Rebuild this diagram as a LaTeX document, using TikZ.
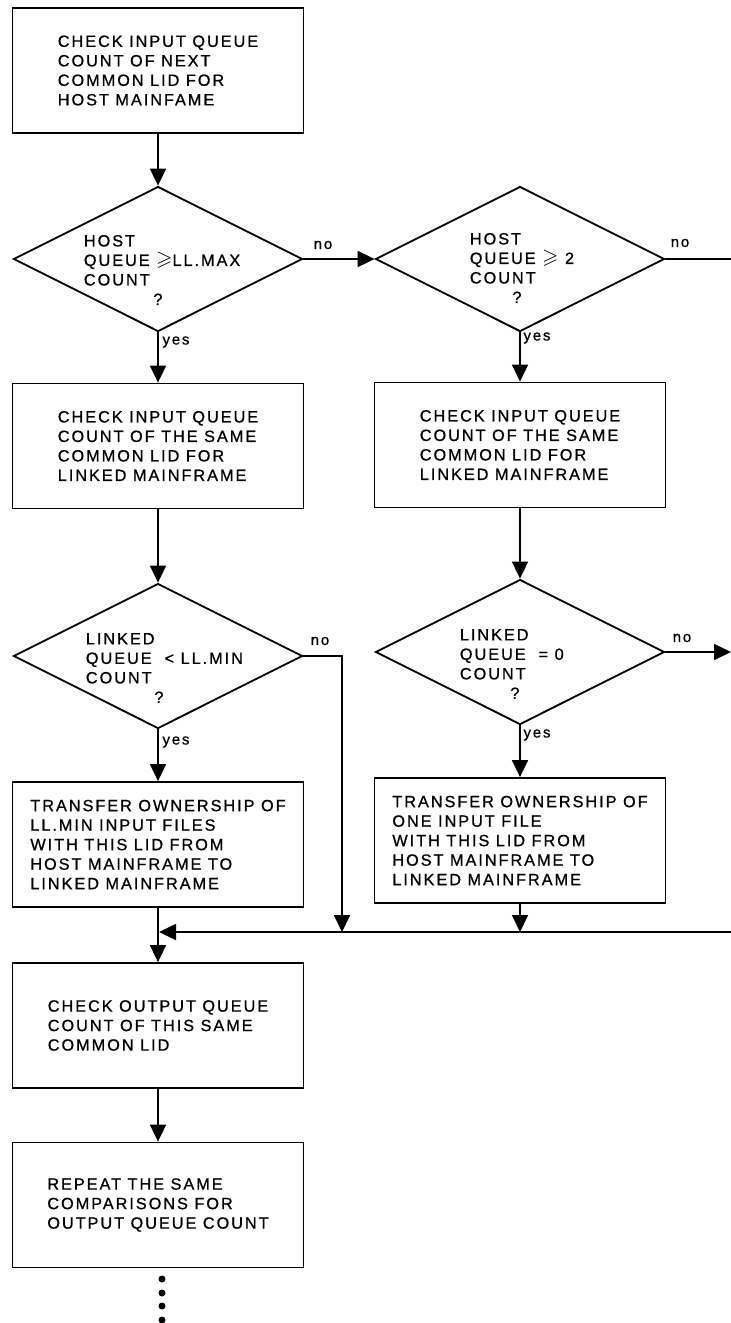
\documentclass[tikz,border=0pt]{standalone}
\usepackage{fontspec}
\usepackage{amssymb}
\setmainfont{Liberation Sans}[LetterSpace=12, FakeBold=0.8]
\usetikzlibrary{shapes.geometric, arrows.meta, positioning}
\newcommand{\geqmark}{{\fontsize{21}{21}\selectfont$\geqslant$}}

\begin{document}
\begin{tikzpicture}[
		x=1pt, y=-1pt,
		font=\fontsize{16.3}{19.5}\selectfont,
		line width=1.8pt,
		% Style for the process boxes
		procbox/.style={draw, rectangle, minimum width=291pt, minimum height=125pt, align=left, inner sep=0pt},
		% Style for the decision diamonds and their text
		decision/.style={draw, diamond, minimum width=289pt, minimum height=145pt, inner sep=0pt},
		dectext/.style={anchor=west, align=left, inner sep=0pt},
		% Connectors and answer labels
		flow/.style={-{Triangle[length=17pt, width=16pt]}},
		answer/.style={font=\fontsize{15}{16}\selectfont, inner sep=0pt}
		]
		\useasboundingbox (0,0) rectangle (731,1323);
		
		% ==============================================================================
		% INPUT QUEUE: host test
		% ==============================================================================
		\node[procbox] (box1) at (158,70.5) {CHECK INPUT QUEUE\\COUNT OF NEXT\\COMMON LID FOR\\HOST MAINFAME};
		
		\node[decision] (d1) at (158,259) {};
		\node[dectext] (d1t) at (83,270) {HOST\\QUEUE \geqmark LL.MAX\\COUNT\\\hspace*{69.5pt}?};
		
		\node[decision] (d2) at (520,259) {};
		\node[dectext] (d2t) at (469,268) {HOST\\QUEUE \geqmark\ 2\\COUNT\\\hspace*{42.5pt}?};
		
		\node[answer] (no1) at (323,245) {no};
		\node[answer] (no2) at (680,243) {no};
		\node[answer] (yes1) at (176,342) {yes};
		\node[answer] (yes2) at (537,338) {yes};
		
		% ==============================================================================
		% LINKED MAINFRAME: checks
		% ==============================================================================
		\node[procbox] (box2) at (158,446) {CHECK INPUT QUEUE\\COUNT OF THE SAME\\COMMON LID FOR\\LINKED MAINFRAME};
		\node[procbox] (box3) at (520,445) {CHECK INPUT QUEUE\\COUNT OF THE SAME\\COMMON LID FOR\\LINKED MAINFRAME};
		
		\node[decision] (d3) at (158,656) {};
		\node[dectext] (d3t) at (85,668) {LINKED\\QUEUE~~< LL.MIN\\COUNT\\\hspace*{68.5pt}?};
		
		\node[decision] (d4) at (520,652) {};
		\node[dectext] (d4t) at (459,664) {LINKED\\QUEUE~~= 0\\COUNT\\\hspace*{50.5pt}?};
		
		\node[answer] (no3) at (320,641) {no};
		\node[answer] (no4) at (682,638) {no};
		\node[answer] (yes3) at (176,742) {yes};
		\node[answer] (yes4) at (537,735) {yes};
		
		% ==============================================================================
		% TRANSFERS AND OUTPUT QUEUE
		% ==============================================================================
		\node[procbox] (box4) at (158,844.5) {TRANSFER OWNERSHIP OF\\LL.MIN INPUT FILES\\WITH THIS LID FROM\\HOST MAINFRAME TO\\LINKED MAINFRAME};
		\node[procbox] (box5) at (520,840.5) {TRANSFER OWNERSHIP OF\\ONE INPUT FILE\\WITH THIS LID FROM\\HOST MAINFRAME TO\\LINKED MAINFRAME};
		
		\node[procbox] (box6) at (158,1025.5) {CHECK OUTPUT QUEUE\\COUNT OF THIS SAME\\COMMON LID};
		\node[procbox] (box7) at (158,1205) {REPEAT THE SAME\\COMPARISONS FOR\\OUTPUT QUEUE COUNT};
		
		% free ends of the connectors
		\coordinate (edge1) at (731,259);
		\coordinate (edge2) at (731,652);
		\coordinate (edge3) at (731,932);
		\coordinate (drop3) at (342,932);
		\coordinate (join) at (158,932);
		
		% ==============================================================================
		% CONNECTORS
		% ==============================================================================
		\draw[flow] (box1.south) -- (d1.north);
		\draw[flow] (d1.east) -- (d2.west);
		\draw (d2.east) -- (edge1);
		\draw[flow] (d1.south) -- (box2.north);
		\draw[flow] (d2.south) -- (box3.north);
		\draw[flow] (box2.south) -- (d3.north);
		\draw[flow] (box3.south) -- (d4.north);
		\draw[flow] (d3.south) -- (box4.north);
		\draw[flow] (d4.south) -- (box5.north);
		\draw[flow] (d3.east) -| (drop3);
		\draw[flow] (d4.east) -- (edge2);
		\draw[flow, shorten >=1pt] (edge3) -- (join);
		\draw[flow] (box5.south) -- (box5.south |- edge3);
		\draw[flow] (box4.south) -- (box6.north);
		\draw[flow] (box6.south) -- (box7.north);
		
		% continuation dots
		\foreach \y in {1279,1293,1306,1320}
			\fill (162,\y) circle (3.5pt);
		
	\end{tikzpicture}
\end{document}
